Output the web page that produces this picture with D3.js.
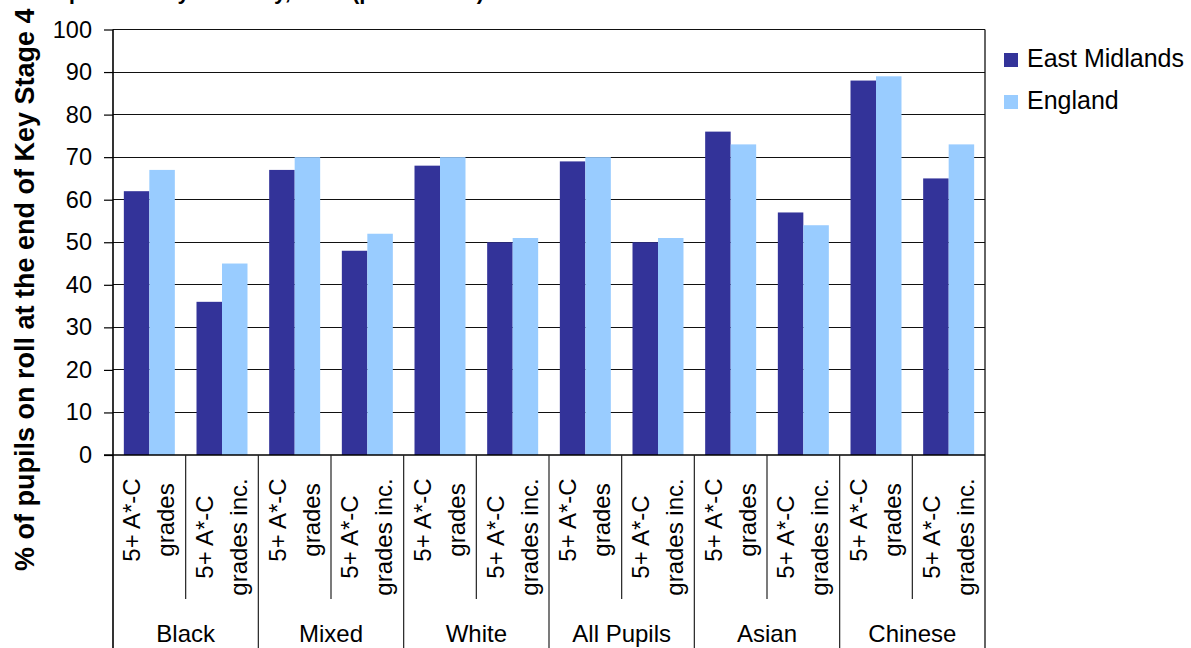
<!DOCTYPE html>
<html>
<head>
<meta charset="utf-8">
<script src="https://cdn.jsdelivr.net/npm/d3@7"></script>
<style>
  html, body { margin: 0; padding: 0; background: #fff; }
  svg { display: block; font-family: "Liberation Sans", Arial, sans-serif; }
</style>
</head>
<body>
<svg id="chart" width="1191" height="648"></svg>
<script>
// ---- data ----
const groups = ["Black", "Mixed", "White", "All Pupils", "Asian", "Chinese"];
const measureLines = [["5+ A*-C", "grades"], ["5+ A*-C", "grades inc."]];
const seriesNames = ["East Midlands", "England"];
const eastMidlands = [62, 36, 67, 48, 68, 50, 69, 50, 76, 57, 88, 65];
const england      = [67, 45, 70, 52, 70, 51, 70, 51, 73, 54, 89, 73];
const yTicks = [0, 10, 20, 30, 40, 50, 60, 70, 80, 90, 100];
const colors = ["#333399", "#99CCFF"];
const titleText = "Attainment at GCSE and equivalent by ethnicity, 2007 (provisional)";
const yLabelText = "% of pupils on roll at the end of Key Stage 4 (aged 15)";

// ---- layout ----
const W = 1191, H = 648;
const plotL = 113, plotR = 985, plotT = 29.5, plotB = 455;

const svg = d3.select("#chart");

const cats = d3.range(groups.length * measureLines.length);
const x0 = d3.scaleBand().domain(cats).range([plotL, plotR]).paddingInner(0).paddingOuter(0);
const x1 = d3.scaleBand().domain(seriesNames).range([0, x0.bandwidth()]).paddingInner(0).paddingOuter(0.425);
const y = d3.scaleLinear().domain([0, 100]).range([plotB, plotT]);

// gridlines
svg.append("g")
  .selectAll("line")
  .data(yTicks.filter(d => d > 0))
  .join("line")
  .attr("x1", plotL).attr("x2", plotR)
  .attr("y1", d => y(d)).attr("y2", d => y(d))
  .attr("stroke", "#111").attr("stroke-width", 1)
  .attr("shape-rendering", "crispEdges");

// bars
const rows = cats.map(i => ({ i, vals: [eastMidlands[i], england[i]] }));
const barG = svg.append("g");
rows.forEach(r => {
  barG.append("g")
    .attr("transform", `translate(${x0(r.i)},0)`)
    .selectAll("rect")
    .data(r.vals.map((v, k) => ({ v, k })))
    .join("rect")
    .attr("x", d => x1(seriesNames[d.k]))
    .attr("width", x1.bandwidth())
    .attr("y", d => y(d.v))
    .attr("height", d => plotB - y(d.v))
    .attr("fill", d => colors[d.k]);
});

// right border
svg.append("line")
  .attr("x1", plotR).attr("x2", plotR).attr("y1", plotT).attr("y2", H)
  .attr("stroke", "#111").attr("stroke-width", 1.3);

// y axis
const yAxis = d3.axisLeft(y).tickValues(yTicks).tickSize(9).tickPadding(12).tickFormat(d3.format("d"));
const yg = svg.append("g").attr("transform", `translate(${plotL},0)`).call(yAxis);
yg.select(".domain").remove();
yg.selectAll(".tick line").attr("stroke", "#000").attr("stroke-width", 1.2);
yg.selectAll(".tick text").attr("font-size", 23.5).attr("fill", "#000")
  .attr("font-family", "'Liberation Sans', Arial, sans-serif");

// left axis line (extends into label area)
svg.append("line")
  .attr("x1", plotL).attr("x2", plotL).attr("y1", plotT).attr("y2", H)
  .attr("stroke", "#000").attr("stroke-width", 1.6);

// x axis line
svg.append("line")
  .attr("x1", plotL - 9).attr("x2", plotR).attr("y1", plotB).attr("y2", plotB)
  .attr("stroke", "#000").attr("stroke-width", 1.6);

// category separators
const bounds = d3.range(cats.length + 1);
svg.append("g")
  .selectAll("line")
  .data(bounds.filter(k => k > 0 && k < cats.length))
  .join("line")
  .attr("x1", k => x0(k))
  .attr("x2", k => x0(k))
  .attr("y1", plotB)
  .attr("y2", k => (k % 2 === 0) ? H : 599)
  .attr("stroke", "#222").attr("stroke-width", 1.2);

// category labels (rotated)
const catCenterY = [520, 537];
const lineOffsets = [-9, 25];
const catLabels = svg.append("g").attr("font-size", 24).attr("fill", "#000");
cats.forEach(i => {
  const m = i % 2;
  const cx = x0(i) + x0.bandwidth() / 2;
  const t = catLabels.append("text")
    .attr("transform", `translate(${cx},${catCenterY[m]}) rotate(-90)`)
    .attr("text-anchor", "middle");
  measureLines[m].forEach((ln, j) => {
    t.append("tspan").attr("x", 0).attr("y", lineOffsets[j]).text(ln);
  });
});

// group labels
svg.append("g")
  .selectAll("text")
  .data(groups)
  .join("text")
  .attr("x", (d, g) => x0(g * 2) + x0.bandwidth())
  .attr("y", 642)
  .attr("text-anchor", "middle")
  .attr("font-size", 24)
  .attr("fill", "#000")
  .text(d => d);

// legend
const legend = svg.append("g");
const legY = [53, 95];
seriesNames.forEach((s, k) => {
  legend.append("rect")
    .attr("x", 1004).attr("y", legY[k]).attr("width", 14).attr("height", 14)
    .attr("fill", colors[k]);
  legend.append("text")
    .attr("x", 1027).attr("y", legY[k] + 14)
    .attr("font-size", 25).attr("fill", "#000")
    .text(s);
});

// y-axis title (clipped at top, as in the reference)
svg.append("text")
  .attr("transform", "translate(34,571) rotate(-90)")
  .attr("text-anchor", "start")
  .attr("font-size", 27)
  .attr("font-weight", "bold")
  .attr("fill", "#000")
  .text(yLabelText);

// chart title (mostly above the visible area, as in the reference)
svg.append("text")
  .attr("x", 484).attr("y", -1.5)
  .attr("text-anchor", "end")
  .attr("font-size", 22)
  .attr("font-weight", "bold")
  .attr("fill", "#000")
  .text(titleText);
</script>
</body>
</html>
